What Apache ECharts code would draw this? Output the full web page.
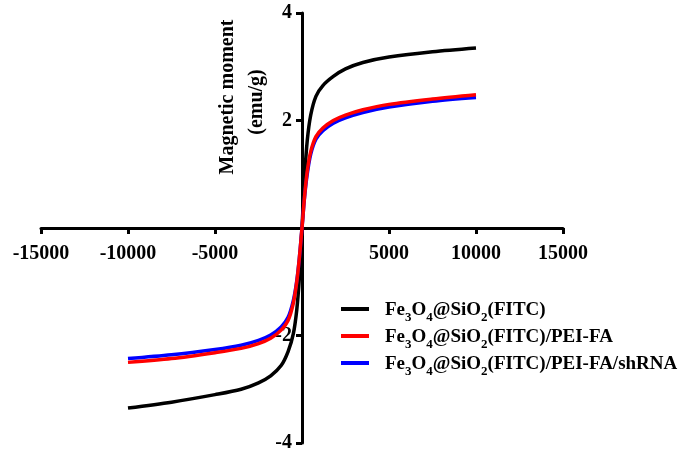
<!DOCTYPE html>
<html><head><meta charset="utf-8">
<script src="https://cdn.jsdelivr.net/npm/echarts@6/dist/echarts.min.js"></script>
<style>html,body{margin:0;padding:0;background:#fff}#c{width:685px;height:457px}</style>
</head><body><div id="c"></div>
<script>
const fieldValues = [-10000,-7500,-5000,-3500,-2500,-1800,-1200,-800,-500,-300,-150,0,150,300,500,800,1200,1800,2500,3500,5000,7500,10000];
const blackValues = [-3.35,-3.24,-3.1,-3.0,-2.88,-2.75,-2.56,-2.3,-1.97,-1.52,-0.92,0,0.95,1.62,2.1,2.45,2.65,2.82,2.96,3.08,3.18,3.28,3.35];
const redValues = [-2.5,-2.43,-2.32,-2.24,-2.15,-2.05,-1.9,-1.72,-1.4,-1.0,-0.55,0,0.6,1.05,1.42,1.7,1.86,2.0,2.1,2.2,2.3,2.4,2.48];
const blueValues = [-2.43,-2.36,-2.26,-2.18,-2.09,-1.99,-1.84,-1.66,-1.35,-0.98,-0.55,0,0.58,1.0,1.37,1.65,1.81,1.95,2.05,2.15,2.25,2.36,2.43];
const seriesNames = ['Fe3O4@SiO2(FITC)','Fe3O4@SiO2(FITC)/PEI-FA','Fe3O4@SiO2(FITC)/PEI-FA/shRNA'];
const seriesColors = ['#000000','#ff0000','#0000ff'];
const xTicks = {min:-15000,max:15000,interval:5000};
const yTicks = {min:-4,max:4,interval:2};
const yTitleLines = ['Magnetic moment','(emu/g)'];

const pair = v => fieldValues.map((x,i)=>[x,v[i]]);
const FONT = 'Liberation Serif';
const chart = echarts.init(document.getElementById('c'));
const lineS = (name,color,vals)=>({name,type:'line',data:pair(vals),smooth:0.3,showSymbol:false,
  lineStyle:{color,width:3.5},itemStyle:{color}});
function legendFmt(name){
  const rest = name.replace('Fe3O4@SiO2','');
  return '{f|Fe}{s|3}{n|O}{s|4}{n|@SiO}{s|2}{n|'+rest+'}';
}
const GL=41, GR=122, GT=13, GB=14, W=685, H=457;
const gw=W-GL-GR, gh=H-GT-GB;
const zeroXoff = gw*(0-xTicks.min)/(xTicks.max-xTicks.min);
const zeroYoff = gh*(yTicks.max-0)/(yTicks.max-yTicks.min);
chart.setOption({
  animation:false,
  grid:{left:GL,right:GR,top:GT,bottom:GB},
  xAxis:{type:'value',min:xTicks.min,max:xTicks.max,interval:xTicks.interval,position:'bottom',
    offset:-(gh-zeroYoff),
    axisLine:{onZero:false,lineStyle:{color:'#000',width:3}},
    axisTick:{show:true,inside:false,length:6,lineStyle:{width:3,color:'#000'}},
    splitLine:{show:false},
    axisLabel:{margin:16,color:'#000',fontFamily:FONT,fontWeight:'bold',fontSize:20,
      formatter:v=>v===0?'':String(v)}},
  yAxis:{type:'value',min:yTicks.min,max:yTicks.max,interval:yTicks.interval,position:'left',
    offset:-zeroXoff,
    axisLine:{onZero:false,lineStyle:{color:'#000',width:3}},
    axisTick:{show:true,length:6,lineStyle:{width:3,color:'#000'}},
    splitLine:{show:false},
    axisLabel:{margin:10,color:'#000',fontFamily:FONT,fontWeight:'bold',fontSize:20,
      formatter:v=>v===0?'':String(v)}},
  legend:{orient:'vertical',left:336,top:296,itemGap:4,itemWidth:28,itemHeight:4,icon:'rect',
    data:seriesNames,
    formatter:legendFmt,
    textStyle:{color:'#000',fontFamily:FONT,fontWeight:'bold',fontSize:19,
      rich:{f:{fontFamily:FONT,fontWeight:'bold',fontSize:19,color:'#000',lineHeight:22,verticalAlign:'bottom',padding:[0,0,0,11]},
            n:{fontFamily:FONT,fontWeight:'bold',fontSize:19,color:'#000',lineHeight:22,verticalAlign:'bottom'},
            s:{fontFamily:FONT,fontWeight:'bold',fontSize:13,color:'#000',lineHeight:22,verticalAlign:'bottom',padding:[0,0,-4,0]}}}},
  graphic:[
    {type:'text',x:228,y:97,rotation:Math.PI/2,style:{text:yTitleLines[0],font:'bold 20px "Liberation Serif"',fill:'#000',textAlign:'center',textVerticalAlign:'middle'}},
    {type:'text',x:257,y:102,rotation:Math.PI/2,style:{text:yTitleLines[1],font:'bold 20px "Liberation Serif"',fill:'#000',textAlign:'center',textVerticalAlign:'middle'}}
  ],
  series:[
    lineS(seriesNames[0],seriesColors[0],blackValues),
    lineS(seriesNames[2],seriesColors[2],blueValues),
    lineS(seriesNames[1],seriesColors[1],redValues)
  ]
});
</script></body></html>
